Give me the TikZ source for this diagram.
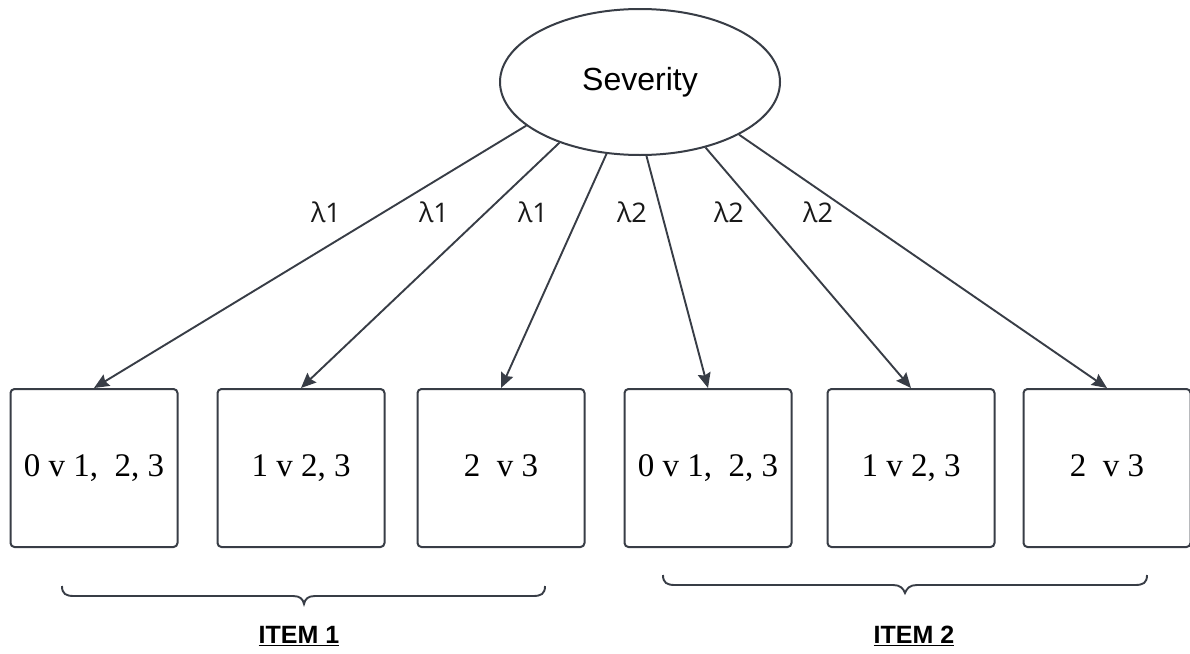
\documentclass[tikz,border=0pt]{standalone}
\usepackage{fontspec}
\setmainfont{Liberation Serif}
\newfontfamily\arialf{Liberation Sans}
\newfontfamily\lamf{Open Sans}
\usetikzlibrary{arrows.meta,shapes.geometric}
\definecolor{ln}{RGB}{56,61,70}
\begin{document}
\begin{tikzpicture}[x=1pt,y=-1pt,
  ind/.style={draw=ln,line width=2pt,rounded corners=4pt,minimum width=167pt,minimum height=158pt,inner sep=0pt,text height=23pt,text depth=6pt,font=\fontsize{33}{38}\selectfont},
  lat/.style={draw=ln,line width=2pt,ellipse,minimum width=280pt,minimum height=146pt,inner sep=0pt,font=\arialf\fontsize{32}{38}\selectfont},
  load/.style={draw=ln,line width=1.9pt,-{Stealth[length=15pt,width=13pt,inset=2pt]}},
  lab/.style={font=\lamf\fontsize{27}{30}\selectfont,text=black!90},
  brc/.style={draw=ln,line width=1.9pt},
  item/.style={font=\arialf\bfseries\fontsize{25}{30}\selectfont}]
\useasboundingbox (0,0) rectangle (1190,653);
\fill[white] (0,0) rectangle (1190,653);
\node[lat] (sev) at (640,82) {Severity};
\node[ind] (b1) at (94,468) {0 v 1,\ \ 2, 3};
\node[ind] (b2) at (301,468) {1 v 2, 3};
\node[ind] (b3) at (501,468) {2\ \ v 3};
\node[ind] (b4) at (708,468) {0 v 1,\ \ 2, 3};
\node[ind] (b5) at (911,468) {1 v 2, 3};
\node[ind] (b6) at (1107,468) {2\ \ v 3};
\draw[load] (sev.201.7) -- (b1.north);
\draw[load] (sev.217.8) -- (b2.north);
\draw[load] (sev.245.7) -- (b3.north);
\draw[load] (sev.275.5) -- (b4.north);
\draw[load] (sev.315) -- (b5.north);
\draw[load] (sev.332.5) -- (b6.north);
\node[lab] (l1) at (326,212) {λ1};
\node[lab] (l2) at (434,212) {λ1};
\node[lab] (l3) at (533,212) {λ1};
\node[lab] (l4) at (632,212) {λ2};
\node[lab] (l5) at (729,212) {λ2};
\node[lab] (l6) at (818,212) {λ2};
\draw[brc] (62,586) .. controls (62,594) and (66,596) .. (74,596) -- (293,596) .. controls (300,596) and (303,599) .. (304,604) .. controls (305,599) and (308,596) .. (315,596) -- (533,596) .. controls (541,596) and (545,594) .. (545,586);
\draw[brc] (663,575) .. controls (663,583) and (667,585) .. (675,585) -- (893,585) .. controls (900,585) and (903,588) .. (905,593) .. controls (907,588) and (910,585) .. (917,585) -- (1135,585) .. controls (1143,585) and (1147,583) .. (1147,575);
\node[item] (i1) at (299,636) {\underline{ITEM 1}};
\node[item] (i2) at (914,636) {\underline{ITEM 2}};
\end{tikzpicture}
\end{document}
